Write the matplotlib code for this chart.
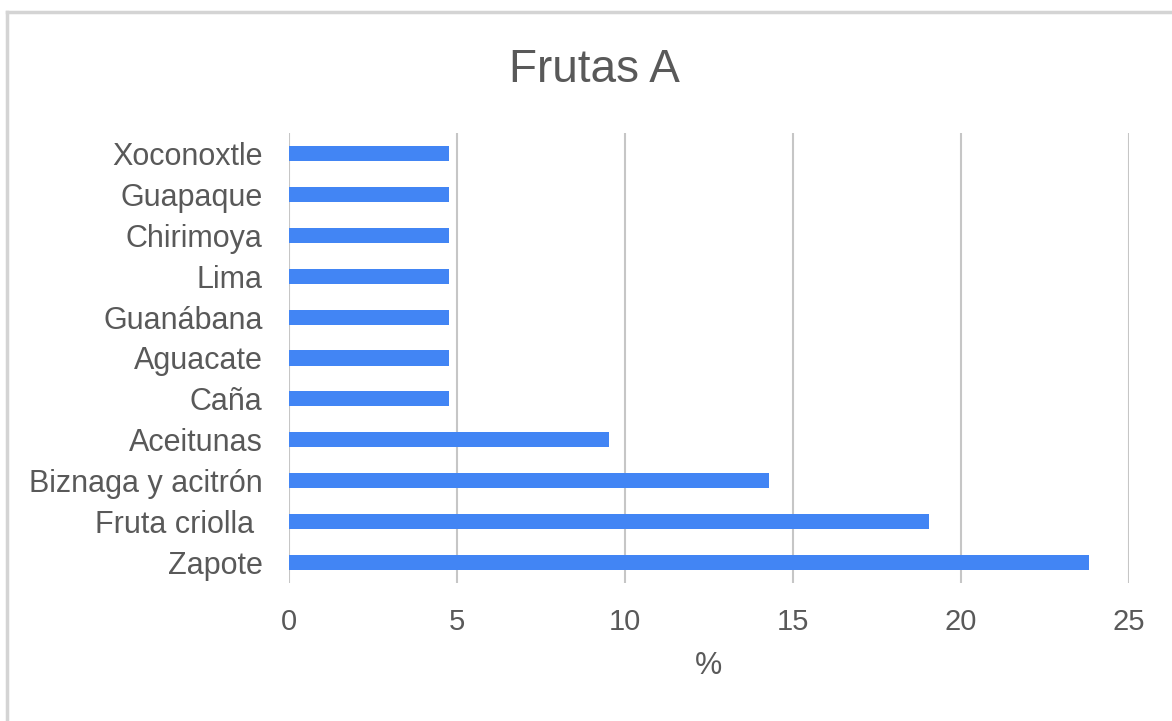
import matplotlib
matplotlib.use("Agg")
import matplotlib.pyplot as plt
from matplotlib.lines import Line2D

# data (percent of mentions)
frutas = ["Zapote", "Fruta criolla ", "Biznaga y acitrón", "Aceitunas", "Caña",
          "Aguacate", "Guanábana", "Lima", "Chirimoya", "Guapaque", "Xoconoxtle"]
porcentaje = [23.81, 19.05, 14.29, 9.52, 4.76, 4.76, 4.76, 4.76, 4.76, 4.76, 4.76]
x_ticks = [0, 5, 10, 15, 20, 25]

plt.rcParams["font.family"] = ["Liberation Sans", "DejaVu Sans"]
text_col = "#595959"
grid_col = "#c6c6c6"

fig = plt.figure(figsize=(11.72, 7.21), dpi=100)
ax = fig.add_axes([289 / 1172, 1 - 583 / 721, 840 / 1172, 450 / 721])

# horizontal bars
ax.barh(range(len(frutas)), porcentaje, height=0.37, color="#4285f4", zorder=3)

ax.set_xlim(0, 25)
ax.set_ylim(-0.5, len(frutas) - 0.5)
ax.set_xticks(x_ticks)
ax.set_yticks(range(len(frutas)))
ax.set_yticklabels(frutas)

# vertical grid lines only, no frame
ax.grid(axis="x", color=grid_col, linewidth=1.5, zorder=0)
for s in ax.spines.values():
    s.set_visible(False)
ax.tick_params(length=0, labelsize=21, colors=text_col)
ax.tick_params(axis="y", pad=19, labelsize=22)
ax.tick_params(axis="x", pad=18)

ax.set_xlabel("%", fontsize=22, color=text_col, labelpad=11)

fig.text(0.507, 0.886, "Frutas A", fontsize=33, color=text_col,
         ha="center", va="baseline")

# light frame on the top and left edges of the picture
fig.add_artist(Line2D([7 / 1172, 7 / 1172], [0, 1 - 12 / 721],
                      transform=fig.transFigure, color="#d4d4d4", lw=2.5))
fig.add_artist(Line2D([7 / 1172, 1], [1 - 12 / 721, 1 - 12 / 721],
                      transform=fig.transFigure, color="#d4d4d4", lw=2.5))

fig.savefig("out.png", dpi=100)
